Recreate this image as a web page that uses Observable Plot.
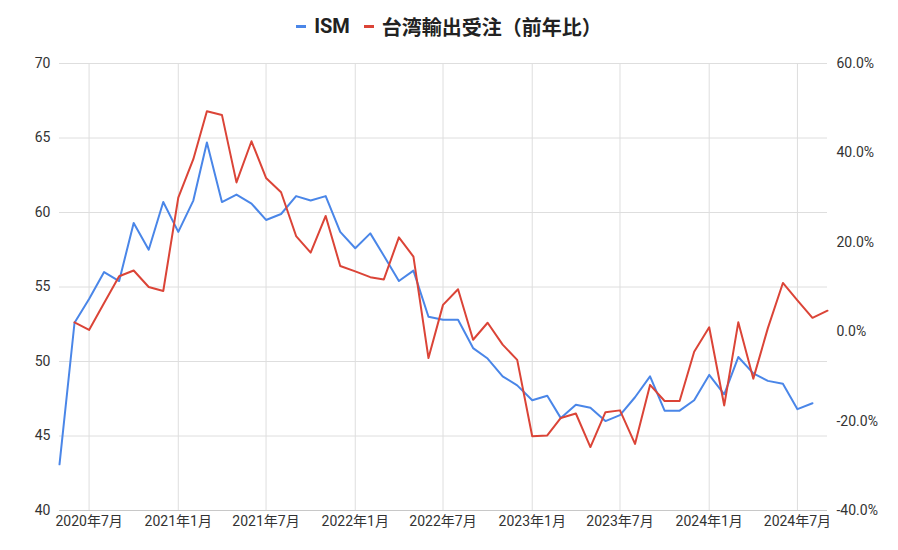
<!DOCTYPE html>
<html>
<head>
<meta charset="utf-8">
<script src="https://cdn.jsdelivr.net/npm/d3@7"></script>
<script src="https://cdn.jsdelivr.net/npm/@observablehq/plot@0.6"></script>
<style>
  body { margin: 0; background: #fff; font-family: Roboto, "Noto Sans CJK JP", sans-serif; }
  #legend { height: 50px; display: flex; justify-content: center; align-items: center; font-weight: bold; font-size: 20px; color: #222; padding-top: 2px; box-sizing: border-box; }
  .item { display: flex; align-items: center; margin: 0 7px; }
  .sw { width: 10px; height: 3px; margin-right: 8px; }
</style>
</head>
<body>
<div id="legend"></div>
<div id="chart"></div>
<script>
const seriesNames = ["ISM", "台湾輸出受注（前年比）"];
const seriesColors = ["#4a86e8", "#db4437"];

const ismMonths = ["2020-05","2020-06","2020-07","2020-08","2020-09","2020-10","2020-11","2020-12",
  "2021-01","2021-02","2021-03","2021-04","2021-05","2021-06","2021-07","2021-08","2021-09","2021-10","2021-11","2021-12",
  "2022-01","2022-02","2022-03","2022-04","2022-05","2022-06","2022-07","2022-08","2022-09","2022-10","2022-11","2022-12",
  "2023-01","2023-02","2023-03","2023-04","2023-05","2023-06","2023-07","2023-08","2023-09","2023-10","2023-11","2023-12",
  "2024-01","2024-02","2024-03","2024-04","2024-05","2024-06","2024-07","2024-08"];
const ismValues = [43.1,52.6,54.2,56.0,55.4,59.3,57.5,60.7,
  58.7,60.8,64.7,60.7,61.2,60.6,59.5,59.9,61.1,60.8,61.1,58.7,
  57.6,58.6,57.1,55.4,56.1,53.0,52.8,52.8,50.9,50.2,49.0,48.4,
  47.4,47.7,46.2,47.1,46.9,46.0,46.4,47.6,49.0,46.7,46.7,47.4,
  49.1,47.8,50.3,49.2,48.7,48.5,46.8,47.2];

const exportMonths = ["2020-06","2020-07","2020-08","2020-09","2020-10","2020-11","2020-12",
  "2021-01","2021-02","2021-03","2021-04","2021-05","2021-06","2021-07","2021-08","2021-09","2021-10","2021-11","2021-12",
  "2022-01","2022-02","2022-03","2022-04","2022-05","2022-06","2022-07","2022-08","2022-09","2022-10","2022-11","2022-12",
  "2023-01","2023-02","2023-03","2023-04","2023-05","2023-06","2023-07","2023-08","2023-09","2023-10","2023-11","2023-12",
  "2024-01","2024-02","2024-03","2024-04","2024-05","2024-06","2024-07","2024-08","2024-09"];
const exportValues = [2.1,0.4,6.4,12.4,13.7,10.0,9.1,
  30.0,38.6,49.3,48.5,33.4,42.6,34.4,31.2,21.4,17.7,25.9,14.7,
  13.5,12.2,11.7,21.1,16.8,-5.9,6.0,9.5,-1.8,2.0,-2.9,-6.3,
  -23.4,-23.2,-19.3,-18.3,-25.8,-18.0,-17.6,-25.1,-11.9,-15.5,-15.5,-4.5,
  1.0,-16.5,2.1,-10.5,0.8,10.9,7.0,3.1,4.7];

const leftTicks = [40, 45, 50, 55, 60, 65, 70];
const rightTickLabels = [-40, -20, 0, 20, 40, 60];
const xTickMonths = ["2020-07","2021-01","2021-07","2022-01","2022-07","2023-01","2023-07","2024-01","2024-07"];

const parse = s => new Date(s + "-01T00:00:00Z");
const ism = ismMonths.map((m, i) => ({date: parse(m), v: ismValues[i]}));
const exp = exportMonths.map((m, i) => ({date: parse(m), v: exportValues[i]}));

// right axis [-40%, 60%] mapped onto left axis [40, 70]
const toLeft = p => 40 + (p + 40) * 0.3;
const fromLeft = y => (y - 40) / 0.3 - 40;

const legend = document.getElementById("legend");
seriesNames.forEach((n, i) => {
  const it = document.createElement("div");
  it.className = "item";
  it.innerHTML = `<span class="sw" style="background:${seriesColors[i]}"></span><span>${n}</span>`;
  legend.appendChild(it);
});

const xTicks = xTickMonths.map(parse);

const chart = Plot.plot({
  width: 898,
  height: 500,
  marginTop: 13,
  marginBottom: 40,
  marginLeft: 59,
  marginRight: 71,
  style: {fontFamily: 'Roboto, "Noto Sans CJK JP", sans-serif', fontSize: "14px", color: "#333", background: "#fff"},
  x: {type: "utc", domain: [parse("2020-05"), parse("2024-09")]},
  y: {domain: [40, 70]},
  marks: [
    Plot.gridY(leftTicks, {stroke: "#dedede", strokeOpacity: 1}),
    Plot.gridX(xTicks, {stroke: "#dedede", strokeOpacity: 1}),
    Plot.ruleY([40], {stroke: "#c8c8c8"}),
    Plot.axisY(leftTicks, {anchor: "left", tickSize: 0, tickPadding: 9, label: null, fill: "#333"}),
    Plot.axisY(rightTickLabels.map(toLeft), {anchor: "right", tickSize: 0, tickPadding: 9, label: null, fill: "#333",
      tickFormat: y => fromLeft(y).toFixed(1) + "%"}),
    Plot.axisX(xTicks, {anchor: "bottom", tickSize: 0, tickPadding: 6, label: null, fill: "#333",
      tickFormat: d => `${d.getUTCFullYear()}年${d.getUTCMonth() + 1}月`}),
    Plot.lineY(ism, {x: "date", y: "v", stroke: seriesColors[0], strokeWidth: 2}),
    Plot.lineY(exp, {x: "date", y: d => toLeft(d.v), stroke: seriesColors[1], strokeWidth: 2})
  ]
});
document.getElementById("chart").appendChild(chart);
</script>
</body>
</html>
